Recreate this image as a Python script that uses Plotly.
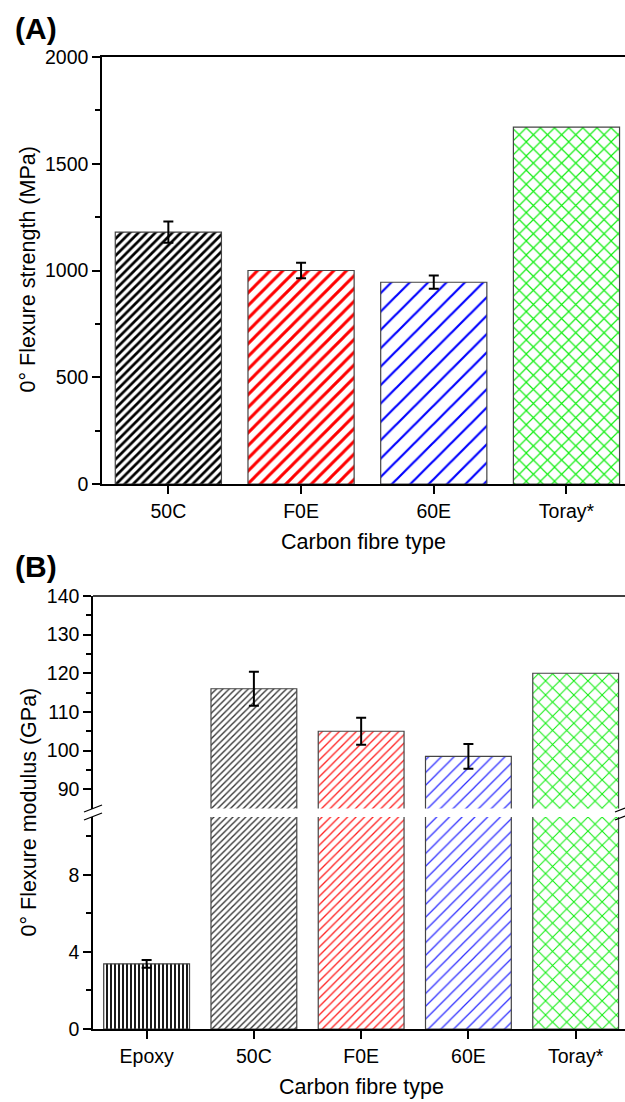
import plotly.graph_objects as go

# ---------------- data ----------------
cat_a = ["50C", "F0E", "60E", "Toray*"]
strength = [1180, 1000, 945, 1672]
strength_err = [50, 36, 31, None]

cat_b = ["Epoxy", "50C", "F0E", "60E", "Toray*"]
modulus = [3.38, 116, 105, 98.5, 120]
modulus_err = [0.2, 4.4, 3.5, 3.2, None]

yticks_a = [0, 500, 1000, 1500, 2000]
yticks_b_low = [0, 4, 8]
yticks_b_high = [90, 100, 110, 120, 130, 140]

# ---------------- style ----------------
W, H = 625, 1102
FONT = "Arial, Liberation Sans, sans-serif"
TICK_SIZE = 19.5
TITLE_SIZE = 21.5
LOW_RANGE = [0, 11]
HIGH_RANGE = [85, 140]


def py(y):
    return 1 - y / H


def pt(x, y):
    return x / W, 1 - y / H


pat_a = dict(shape=["/", "/", "/", "x"],
             fgcolor=["#000000", "#ff0000", "#0000ff", "#11ee11"],
             bgcolor="white",
             size=[6, 9, 13, 10],
             solidity=[0.45, 0.33, 0.17, 0.22],
             fillmode="replace")
pat_b = dict(shape=["|", "/", "/", "/", "x"],
             fgcolor=["#000000", "#333333", "#ff2020", "#3030ff", "#11ee11"],
             bgcolor="white",
             size=[4, 4.5, 6, 9, 10],
             solidity=[0.45, 0.3, 0.22, 0.14, 0.2],
             fillmode="replace")
bar_line = dict(color="#444444", width=1.2)
err_style = dict(type="data", color="black", thickness=2, width=5, visible=True)

fig = go.Figure()


def with_err(cats, vals, errs, rng=None):
    """keep only points that have an error value (and lie inside rng)"""
    out = [(c, v, e) for c, v, e in zip(cats, vals, errs)
           if e is not None and (rng is None or rng[0] <= v <= rng[1])]
    return [o[0] for o in out], [o[1] for o in out], [o[2] for o in out]


# Panel A
fig.add_trace(go.Bar(
    x=cat_a, y=strength, width=0.8, xaxis="x", yaxis="y",
    marker=dict(color="white", pattern=pat_a, line=bar_line),
    showlegend=False))
ex, ey, ee = with_err(cat_a, strength, strength_err)
fig.add_trace(go.Scatter(
    x=ex, y=ey, mode="markers", xaxis="x", yaxis="y",
    marker=dict(size=1, opacity=0),
    error_y=dict(array=ee, **err_style), showlegend=False, hoverinfo="skip"))

# Panel B (broken axis: lower and upper segments)
for yax, rng in (("y2", LOW_RANGE), ("y3", HIGH_RANGE)):
    fig.add_trace(go.Bar(
        x=cat_b, y=modulus, width=0.8, xaxis="x2", yaxis=yax,
        marker=dict(color="white", pattern=pat_b, line=bar_line),
        showlegend=False))
    ex, ey, ee = with_err(cat_b, modulus, modulus_err, rng)
    fig.add_trace(go.Scatter(
        x=ex, y=ey, mode="markers", xaxis="x2", yaxis=yax,
        marker=dict(size=1, opacity=0),
        error_y=dict(array=ee, **err_style), showlegend=False,
        hoverinfo="skip"))

axis_common = dict(showline=True, linecolor="black", linewidth=1.5,
                   ticks="outside", ticklen=8, tickwidth=1.5, tickcolor="black",
                   showgrid=False, zeroline=False, automargin=False,
                   tickfont=dict(family=FONT, size=TICK_SIZE, color="black"))
minor_common = dict(ticks="outside", ticklen=5, tickwidth=1.5, tickcolor="black")

fig.update_layout(
    width=W, height=H,
    margin=dict(l=0, r=0, t=0, b=0, pad=0, autoexpand=False),
    paper_bgcolor="white", plot_bgcolor="white",
    font=dict(family=FONT, size=TICK_SIZE, color="black"),
    barmode="overlay",
    xaxis=dict(domain=[102 / W, 1], anchor="y", range=[-0.5, 3.441],
               mirror=True, ticklabelstandoff=1, **axis_common),
    yaxis=dict(domain=[py(484), py(57)], anchor="x", range=[0, 2000],
               tickvals=yticks_a, minor=dict(dtick=250, **minor_common),
               **axis_common),
    xaxis2=dict(domain=[93 / W, 1], anchor="y2", range=[-0.5, 4.46],
                ticklabelstandoff=1, **axis_common),
    yaxis2=dict(domain=[py(1029), py(817)], anchor="x2", range=LOW_RANGE,
                tickvals=yticks_b_low,
                minor=dict(tickvals=[2, 6, 10], **minor_common),
                **axis_common),
    yaxis3=dict(domain=[py(808.5), py(596)], anchor="x2", range=HIGH_RANGE,
                tickvals=yticks_b_high,
                minor=dict(tickvals=[95, 105, 115, 125, 135], **minor_common),
                **axis_common),
)

# top frame line of panel B and break marks
shapes = [dict(type="line", xref="paper", yref="paper",
               x0=93 / W, x1=1, y0=py(596), y1=py(596),
               line=dict(color="black", width=1.5))]
for (xa, ya, xb, yb) in [(84, 812, 102, 805), (84, 820, 102, 813),
                         (615, 812, 625, 808), (615, 820, 625, 816)]:
    x0, y0 = pt(xa, ya)
    x1, y1 = pt(xb, yb)
    shapes.append(dict(type="line", xref="paper", yref="paper",
                       x0=x0, y0=y0, x1=x1, y1=y1,
                       line=dict(color="black", width=1.3)))
fig.update_layout(shapes=shapes)

# titles / panel labels
ann = [
    ("<b>(A)</b>", 36 / W, py(28), 30, 0),
    ("<b>(B)</b>", 36 / W, py(566), 30, 0),
    ("0° Flexure strength (MPa)", 27.5 / W, py(270), TITLE_SIZE, -90),
    ("Carbon fibre type", 363 / W, py(542), TITLE_SIZE, 0),
    ("0° Flexure modulus (GPa)", 28.5 / W, py(812), TITLE_SIZE, -90),
    ("Carbon fibre type", 361 / W, py(1087), TITLE_SIZE, 0),
]
for txt, x, y, size, angle in ann:
    fig.add_annotation(text=txt, xref="paper", yref="paper", showarrow=False,
                       x=x, y=y, xanchor="center", yanchor="middle",
                       textangle=angle,
                       font=dict(size=size, family=FONT, color="black"))

fig.write_html("out.html")
